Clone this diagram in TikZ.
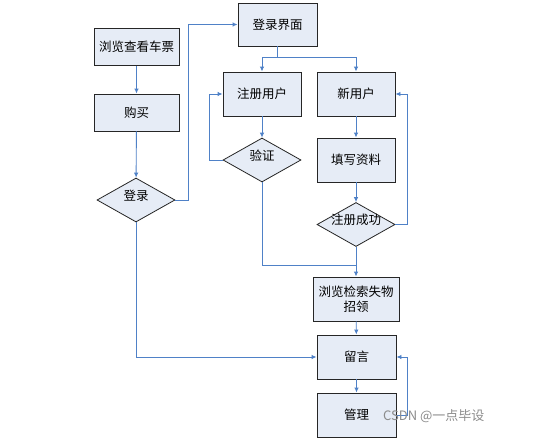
\documentclass[tikz,border=0pt]{standalone}
\usepackage{fontspec}
\newfontfamily\cjk{Noto Sans CJK SC}
\usetikzlibrary{shapes.geometric,arrows.meta}
\definecolor{boxfill}{RGB}{230,236,246}
\definecolor{linecol}{RGB}{79,129,199}
\begin{document}
\begin{tikzpicture}[x=1pt,y=-1pt,
  box/.style={draw=black!85, fill=boxfill, line width=0.9pt, minimum width=85pt, minimum height=37pt, inner sep=1pt, font=\cjk\fontsize{12.5}{15}\selectfont, align=center},
  dia/.style={diamond, draw=black!85, fill=boxfill, line width=0.8pt, minimum width=78pt, minimum height=44pt, inner sep=0pt, font=\cjk\fontsize{12.5}{15}\selectfont},
  ln/.style={draw=linecol, line width=0.9pt},
  arr/.style={ln, -{Latex[length=5pt,width=4.5pt]}}]
\useasboundingbox (0,0) rectangle (534,439);
\fill[white] (0,0) rectangle (534,439);
% left column
\node[box] (view) at (136.5,47) {浏览查看车票};
\node[box] (buy) at (136.5,112.5) {购买};
\node[dia] (login) at (136,200) {\smash{\makebox[0pt]{登录}}};
% top
\node[box, minimum width=79pt, minimum height=43pt] (ui) at (277.5,24.5) {登录界面};
\node[box, minimum width=78pt, minimum height=44pt] (reg) at (262,94) {注册用户};
\node[dia] (ver) at (262,160) {\smash{\makebox[0pt]{验证}}};
\node[box, minimum width=78pt, minimum height=44pt] (new) at (356,94) {新用户};
\node[box, minimum width=78pt, minimum height=44pt] (fillin) at (356,160) {填写资料};
\node[dia] (succ) at (356,224.5) {\smash{\makebox[0pt]{注册成功}}};
\node[box, minimum width=86pt, minimum height=44pt] (browse) at (356,299) {浏览检索失物\\招领};
\node[box, minimum width=79pt, minimum height=44pt] (msg) at (356.5,357) {留言};
\node[box, minimum width=79pt, minimum height=44pt] (mgmt) at (356.5,415) {管理};
% connectors
\draw[arr] (view) -- (buy);
\draw[arr] (buy) -- (login);
\draw[arr] (login.east) -- ++(13,0) |- (ui.west);
\draw[ln] (ui.south) -- ++(0,11) coordinate (j1);
\draw[arr] (j1) -| (reg.north);
\draw[arr] (j1) -| (new.north);
\draw[arr] (reg) -- (ver);
\draw[arr] (ver.west) -- ++(-13,0) |- (reg.west);
\coordinate (j2) at (356,265);
\draw[ln] (ver.south) |- (j2);
\draw[arr] (new) -- (fillin);
\draw[arr] (fillin) -- (succ);
\draw[arr] (succ.south) -- (browse.north);
\draw[arr] (succ.east) -- ++(12,0) |- (new.east);
\draw[arr] (login.south) |- (msg.west);
\draw[arr] (browse) -- (msg);
\draw[arr] (msg) -- (mgmt);
\draw[arr] (mgmt.east) -- ++(11,0) |- (msg.east);
% watermark
\node[anchor=west, text=black!45, font=\cjk\fontsize{13}{15}\selectfont, inner sep=0pt] (wm) at (383,416) {CSDN @一点毕设};
\end{tikzpicture}
\end{document}
